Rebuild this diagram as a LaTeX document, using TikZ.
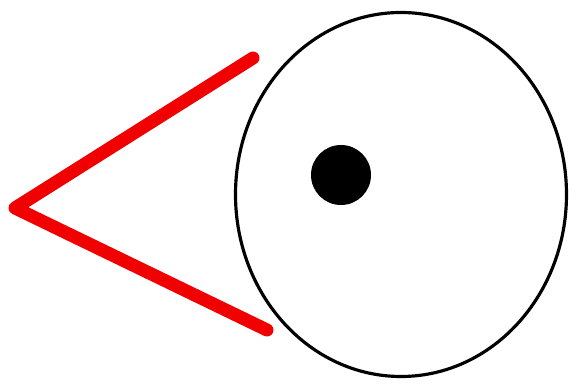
\documentclass[tikz,border=0pt]{standalone}
\usepackage{xcolor}
\usepackage{tikz}
\definecolor{beakc}{RGB}{240,0,0}
\tikzset{
  headline/.style={black,line width=.9pt},
  beakline/.style={beakc,line width=3.7pt,line cap=round,line join=round}
}

\begin{document}
\begin{tikzpicture}[x=1cm,y=1cm]
\useasboundingbox (0,0) rectangle (5.77,3.84);
\draw[headline] (4.01,1.895) ellipse [x radius=1.655,y radius=1.82];
\fill[black] (3.41,2.09) circle (.30);
\coordinate (beaktop) at (2.53,3.26);
\coordinate (beaktip) at (0.15,1.76);
\coordinate (beakbot) at (2.67,0.54);
\draw[beakline] (beaktop)--(beaktip)--(beakbot);
\end{tikzpicture}
\end{document}
